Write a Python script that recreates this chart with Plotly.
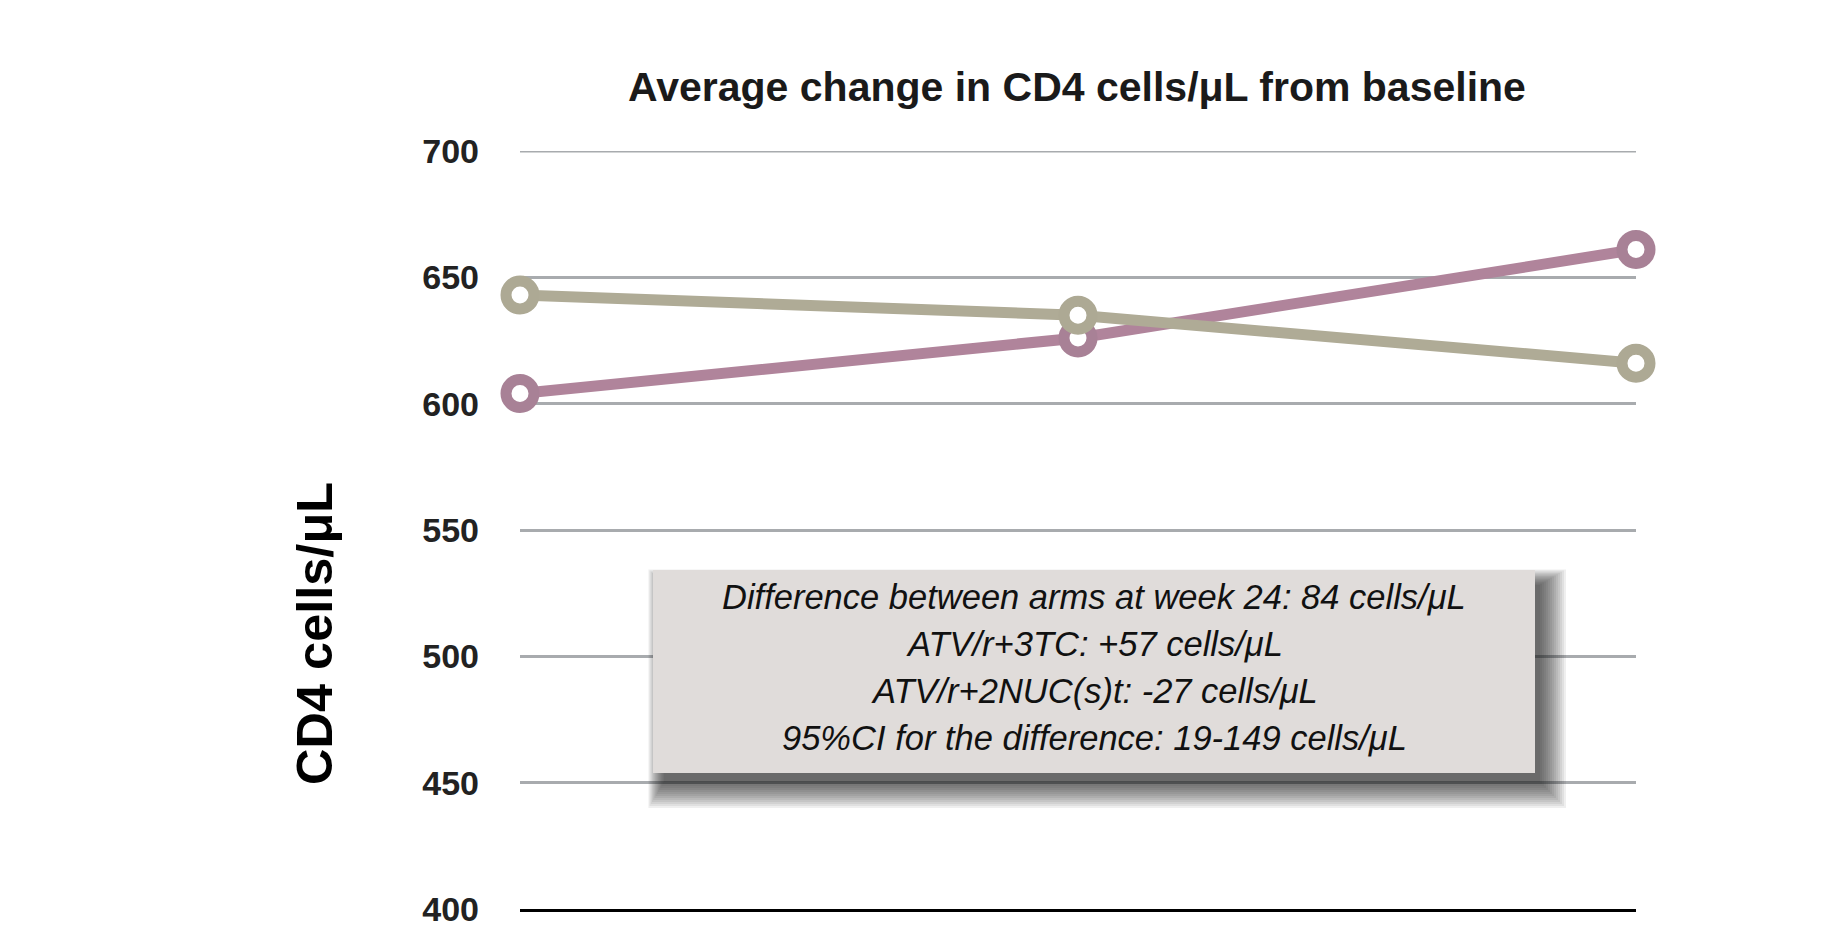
import plotly.graph_objects as go

# ---- data ----
timepoints = ["Baseline", "Week 12", "Week 24"]
atv_3tc = [604, 626, 661]        # ATV/r+3TC (mauve)
atv_2nuc = [643, 635, 616]       # ATV/r+2NUC(s)t (beige)
y_ticks = [400, 450, 500, 550, 600, 650, 700]
box_lines = [
    "Difference between arms at week 24: 84 cells/μL",
    "ATV/r+3TC: +57 cells/μL",
    "ATV/r+2NUC(s)t: -27 cells/μL",
    "95%CI for the difference: 19-149 cells/μL",
]

W, H = 1841, 930
L, R, T, B = 520, 205, 151, 21
PW, PH = W - L - R, H - T - B


def px(x):
    return (x - L) / PW


def py(y):
    return (H - B - y) / PH


mauve = "#B0849B"
mauve_m = "#A88196"
beige = "#AFAB96"
beige_m = "#ADA994"
grid = "#A8ABAE"

fig = go.Figure()
fig.add_trace(go.Scatter(
    x=timepoints, y=atv_3tc, mode="lines+markers", name="ATV/r+3TC",
    line=dict(color=mauve, width=11),
    marker=dict(symbol="circle", size=28, color="white",
                line=dict(color=mauve_m, width=11)),
    cliponaxis=False, showlegend=False,
))
fig.add_trace(go.Scatter(
    x=timepoints, y=atv_2nuc, mode="lines+markers", name="ATV/r+2NUC(s)t",
    line=dict(color=beige, width=11),
    marker=dict(symbol="circle", size=28, color="white",
                line=dict(color=beige_m, width=11)),
    cliponaxis=False, showlegend=False,
))

shapes = []
# top gridline (Plotly drops gridlines lying on the plot edge)
shapes.append(dict(type="line", xref="paper", yref="y", x0=0, x1=1,
                   y0=y_ticks[-1], y1=y_ticks[-1], layer="below",
                   line=dict(color=grid, width=3)))

# ---- annotation box with soft shadow ----
bx0, bx1, by0, by1 = 653, 1535, 570, 773
dx, dy = 5, 9
N = 13
for k in range(N, -1, -1):
    e = k * 2.0
    shapes.append(dict(
        type="rect", xref="paper", yref="paper", layer="above",
        x0=px(bx0 + dx + 6 - e * 0.6), x1=px(bx1 + dx + e),
        y0=py(by1 + dy + e), y1=py(by0 + dy + 6 - e * 0.6),
        fillcolor="rgba(30,30,30,0.07)", line=dict(width=0),
    ))
shapes.append(dict(
    type="rect", xref="paper", yref="paper", layer="above",
    x0=px(bx0), x1=px(bx1), y0=py(by1), y1=py(by0),
    fillcolor="#E0DCDA", line=dict(width=0),
))

annotations = []
line_y = [596.5, 643.5, 690.5, 737.5]
for txt, yy in zip(box_lines, line_y):
    annotations.append(dict(
        text=txt, xref="paper", yref="paper", x=px((bx0 + bx1) / 2), y=py(yy),
        xanchor="center", yanchor="middle", showarrow=False,
        font=dict(family="Liberation Sans, Arial, sans-serif", size=34.5,
                  color="#111111", style="italic"),
    ))

annotations.append(dict(
    text="<b>CD4 cells/μL</b>", xref="paper", yref="paper",
    x=px(314), y=py(634), xanchor="center", yanchor="middle",
    textangle=-90, showarrow=False,
    font=dict(family="Liberation Sans, Arial, sans-serif", size=50.5, color="#000000"),
))

fig.update_layout(
    width=W, height=H,
    margin=dict(l=L, r=R, t=T, b=B, autoexpand=False),
    paper_bgcolor="white", plot_bgcolor="white",
    title=dict(
        text="<b>Average change in CD4 cells/μL from baseline</b>",
        x=px(1077), xref="paper", xanchor="center",
        y=1 - 87 / H, yref="container", yanchor="middle",
        font=dict(family="Liberation Sans, Arial, sans-serif", size=41, color="#1a1a1a"),
    ),
    shapes=shapes,
    annotations=annotations,
)

fig.update_xaxes(
    type="category", range=[0, 2], showgrid=False, zeroline=False,
    showticklabels=False, ticks="", automargin=False,
    showline=True, linecolor="#000000", linewidth=3,
)
fig.update_yaxes(
    range=[400, 700], tickvals=y_ticks, ticktext=[str(v) for v in y_ticks],
    showgrid=True, gridcolor=grid, gridwidth=3, automargin=False,
    zeroline=False, showline=False, ticks="",
    ticklabelstandoff=40,
    tickfont=dict(family="Liberation Sans, Arial, sans-serif", size=34, color="#222222",
                  weight="bold"),
)

fig.write_html("out.html")
